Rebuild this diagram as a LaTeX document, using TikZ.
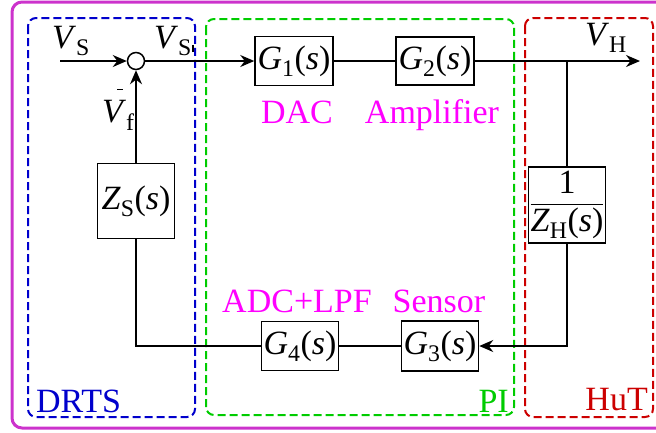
\documentclass[tikz,border=0pt]{standalone}
\usepackage{amsmath}
\usepackage{fontspec}
\setmainfont{LiberationSerif}[Extension=.ttf, UprightFont=*-Regular, ItalicFont=*-Italic, BoldFont=*-Bold, BoldItalicFont=*-BoldItalic]
\usetikzlibrary{arrows.meta}
\definecolor{outerc}{RGB}{204,51,204}
\definecolor{bluec}{RGB}{0,0,204}
\definecolor{greenc}{RGB}{0,204,0}
\definecolor{redc}{RGB}{204,0,0}
\definecolor{magc}{RGB}{255,0,255}
\newcommand\mysub[2]{\textit{#1}\textsubscript{#2}}
\newcommand\barvf{\makebox[0pt][l]{\kern15pt\raisebox{32pt}{\rule{6pt}{1.4pt}}}\textit{V}\textsubscript{f}}
\begin{document}
\begin{tikzpicture}[x=1pt,y=-1pt,
  bigfont/.style={font=\rmfamily\fontsize{34pt}{40pt}\selectfont},
  blk/.style={draw, line width=1.5pt, inner sep=0pt, bigfont},
  lbl/.style={inner sep=0pt, bigfont},
  tag/.style={inner sep=0pt, bigfont, text=magc},
  wire/.style={line width=1.8pt},
  arr/.style={wire, -{Stealth[length=14pt,width=12pt]}},
  grp/.style={dash pattern=on 8pt off 4pt, line width=2pt, rounded corners=8pt}
]
\useasboundingbox (0,0) rectangle (656,432);
\draw[outerc, line width=3pt, rounded corners=10pt] (12,2) rectangle (672,428);
% group boxes
\draw[grp, bluec] (28,18) rectangle (195,417);
\draw[grp, greenc] (206,19) rectangle (514,415);
\draw[grp, redc] (525,18) rectangle (653,417);
\node[lbl, text=bluec, anchor=base west] (drts) at (36,412) {DRTS};
\node[lbl, text=greenc, anchor=base east] (pi) at (509,412) {PI};
\node[lbl, text=redc, anchor=base east] (hut) at (648,410) {HuT};
% blocks
\node[circle, draw, line width=1.5pt, minimum size=17pt, inner sep=0pt] (sum) at (136,61) {};
\node[blk, minimum width=78pt, minimum height=49pt] (g1) at (294,61) {\mysub{G}{1}(\textit{s})};
\node[blk, minimum width=78pt, minimum height=48pt] (g2) at (435,61) {\mysub{G}{2}(\textit{s})};
\node[blk, minimum width=77pt, minimum height=76pt] (zh) at (567,205) {$\dfrac{\mbox{1}}{\mbox{\textit{Z}\textsubscript{H}(\textit{s})}}$};
\node[blk, minimum width=77pt, minimum height=50pt] (g3) at (440,346) {\mysub{G}{3}(\textit{s})};
\node[blk, minimum width=77pt, minimum height=49pt] (g4) at (300,346) {\mysub{G}{4}(\textit{s})};
\node[blk, minimum width=77pt, minimum height=75pt] (zs) at (136,201) {\mysub{Z}{S}(\textit{s})};
% labels
\node[lbl, anchor=base west] (vs) at (52,48) {\mysub{V}{S}};
\node[lbl, anchor=base west] (vsp) at (154,48) {\textit{V}\textsubscript{S\kern1pt\raisebox{3pt}{\rule{1.3pt}{7pt}}}};
\node[lbl, anchor=base west] (vf) at (102,122) {\barvf};
\node[lbl, anchor=base west] (vh) at (585,45) {\mysub{V}{H}};
\node[tag, anchor=base] (dac) at (297,123) {DAC};
\node[tag, anchor=base] (amp) at (432,123) {Amplifier};
\node[tag, anchor=base] (adc) at (297,312) {ADC+LPF};
\node[tag, anchor=base] (sen) at (439,312) {Sensor};
% connectors
\coordinate (in) at (60,61);
\coordinate (out) at (640,61);
\coordinate (br) at (567,61);
\draw[arr] (in) -- (sum);
\draw[arr] (sum) -- (g1);
\draw[wire] (g1) -- (g2);
\draw[arr] (g2) -- (out);
\draw[wire] (br) -- (zh);
\draw[arr] (zh) |- (g3);
\draw[wire] (g3) -- (g4);
\draw[wire] (g4) -| (zs);
\draw[arr] (zs) -- (sum);
\end{tikzpicture}
\end{document}
